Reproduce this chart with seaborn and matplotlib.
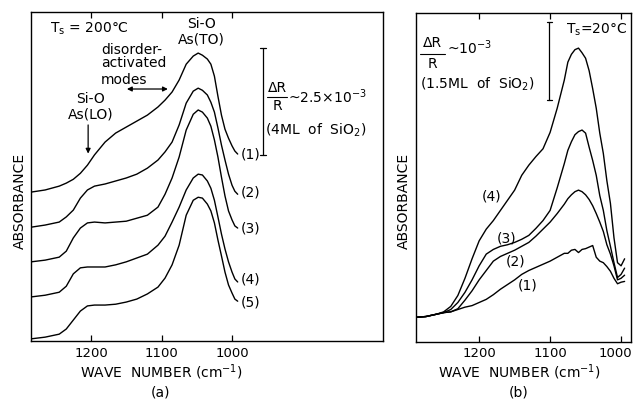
import matplotlib
matplotlib.use("Agg")
import matplotlib.pyplot as plt
from matplotlib.transforms import ScaledTranslation
import pandas as pd
import seaborn as sns

# ---------------- (a) T_s = 200 C : five spectra, stacked (units: 1e-3 dR/R) ----------------
WN_A = [1285, 1265, 1245, 1235, 1225, 1215, 1205, 1195, 1180, 1165, 1150, 1135,
        1120, 1105, 1095, 1085, 1075, 1065, 1055, 1048, 1042, 1035, 1030, 1025,
        1020, 1015, 1010, 1005, 1000, 996, 992]
A1 = [3.48, 3.53, 3.62, 3.69, 3.78, 3.92, 4.11, 4.35, 4.65, 4.86, 5.00, 5.14,
      5.28, 5.47, 5.63, 5.82, 6.10, 6.47, 6.66, 6.73, 6.68, 6.59, 6.47, 6.19,
      5.72, 5.28, 4.95, 4.74, 4.56, 4.44, 4.37]
A2 = [2.66, 2.71, 2.78, 2.90, 3.06, 3.34, 3.53, 3.62, 3.67, 3.74, 3.81, 3.90,
      4.04, 4.23, 4.42, 4.65, 5.05, 5.56, 5.84, 5.91, 5.86, 5.75, 5.58, 5.35,
      4.98, 4.58, 4.23, 3.90, 3.64, 3.50, 3.43]
A3 = [1.85, 1.89, 1.96, 2.10, 2.41, 2.64, 2.76, 2.78, 2.76, 2.78, 2.80, 2.87,
      2.94, 3.13, 3.43, 3.81, 4.30, 4.93, 5.30, 5.40, 5.35, 5.21, 5.02, 4.70,
      4.30, 3.83, 3.39, 3.04, 2.83, 2.69, 2.64]
A4 = [1.03, 1.07, 1.14, 1.28, 1.57, 1.71, 1.73, 1.73, 1.73, 1.78, 1.85, 1.94,
      2.03, 2.24, 2.45, 2.78, 3.13, 3.53, 3.81, 3.90, 3.88, 3.74, 3.57, 3.29,
      2.90, 2.50, 2.15, 1.85, 1.61, 1.45, 1.38]
A5 = [0.05, 0.09, 0.16, 0.28, 0.49, 0.70, 0.82, 0.84, 0.84, 0.86, 0.91, 0.98,
      1.10, 1.26, 1.47, 1.78, 2.24, 2.94, 3.29, 3.36, 3.34, 3.20, 3.04, 2.76,
      2.36, 1.99, 1.61, 1.31, 1.12, 0.98, 0.93]
LABELS_A = ["(1)", "(2)", "(3)", "(4)", "(5)"]
SCALE_A = 2.5          # dR/R ~ 2.5e-3  (4 ML of SiO2)

# ---------------- (b) T_s = 20 C : four spectra (units: 1e-3 dR/R) ----------------
WN_B = [1289, 1275, 1260, 1250, 1240, 1230, 1220, 1210, 1200, 1190, 1180, 1170, 1160,
        1150, 1140, 1130, 1120, 1110, 1100, 1090, 1080, 1075, 1070, 1065, 1060, 1055,
        1050, 1045, 1040, 1035, 1030, 1025, 1020, 1015, 1010, 1005, 1000, 995]
B1 = [0.31, 0.32, 0.35, 0.37, 0.38, 0.41, 0.44, 0.46, 0.50, 0.54, 0.60, 0.67, 0.73,
      0.79, 0.86, 0.91, 0.95, 0.99, 1.03, 1.08, 1.13, 1.13, 1.17, 1.18, 1.14, 1.18,
      1.19, 1.21, 1.23, 1.08, 1.03, 1.01, 0.96, 0.90, 0.81, 0.74, 0.76, 0.77]
B2 = [0.31, 0.32, 0.35, 0.37, 0.38, 0.42, 0.53, 0.65, 0.79, 0.91, 1.03, 1.09, 1.13,
      1.17, 1.22, 1.27, 1.35, 1.44, 1.53, 1.64, 1.76, 1.83, 1.88, 1.92, 1.94, 1.92,
      1.88, 1.82, 1.74, 1.64, 1.53, 1.41, 1.24, 1.12, 0.97, 0.79, 0.81, 0.85]
B3 = [0.31, 0.32, 0.35, 0.37, 0.41, 0.50, 0.63, 0.79, 0.97, 1.12, 1.18, 1.22, 1.24,
      1.27, 1.31, 1.36, 1.45, 1.55, 1.68, 1.97, 2.28, 2.45, 2.56, 2.65, 2.69, 2.71,
      2.67, 2.49, 2.32, 2.13, 1.87, 1.68, 1.42, 1.22, 1.01, 0.82, 0.86, 0.94]
B4 = [0.31, 0.32, 0.35, 0.38, 0.45, 0.59, 0.81, 1.06, 1.29, 1.44, 1.55, 1.68, 1.81,
      1.94, 2.13, 2.26, 2.37, 2.47, 2.68, 2.99, 3.35, 3.58, 3.68, 3.74, 3.76, 3.70,
      3.63, 3.47, 3.24, 2.99, 2.67, 2.41, 2.06, 1.77, 1.33, 1.01, 0.97, 1.06]
LABELS_B = ["(1)", "(2)", "(3)", "(4)"]
SCALE_B = 1.0          # dR/R ~ 1e-3  (1.5 ML of SiO2)

XTICKS = [1200, 1100, 1000]


def long_frame(wn, series, labels):
    parts = [pd.DataFrame({"wavenumber": wn, "absorbance": s, "spectrum": lab})
             for s, lab in zip(series, labels)]
    return pd.concat(parts, ignore_index=True)


df_a = long_frame(WN_A, [A1, A2, A3, A4, A5], LABELS_A)
df_b = long_frame(WN_B, [B1, B2, B3, B4], LABELS_B)

sns.set_theme(style="ticks")
plt.rcParams["font.family"] = ["DejaVu Sans"]
plt.rcParams["mathtext.default"] = "regular"

FS = 10
LW = 1.0
fig = plt.figure(figsize=(6.34, 4.0), dpi=100)
fig.patch.set_facecolor("white")
ax_a = fig.add_axes([31 / 634, 59 / 400, 352 / 634, 329 / 400])
ax_b = fig.add_axes([416 / 634, 58.5 / 400, 215 / 634, 328.5 / 400])

for ax, df, labels in ((ax_a, df_a, LABELS_A), (ax_b, df_b, LABELS_B)):
    sns.lineplot(data=df, x="wavenumber", y="absorbance", hue="spectrum",
                 palette=["black"] * len(labels), estimator=None, sort=False,
                 legend=False, linewidth=LW, ax=ax)
    ax.set_xticks(XTICKS)
    ax.set_xticklabels([str(t) for t in XTICKS], fontsize=9.5)
    ax.set_yticks([])
    ax.tick_params(axis="x", direction="in", top=True, bottom=True,
                   length=4, width=0.9, pad=4, colors="black")
    for sp in ax.spines.values():
        sp.set_visible(True)
        sp.set_linewidth(1.0)
        sp.set_color("black")
    ax.set_facecolor("white")
    ax.set_xlabel("")
    ax.set_ylabel("")

ax_a.set_xlim(1285, 786)
ax_a.set_ylim(0, 7.69)
ax_b.set_xlim(1289, 986)
ax_b.set_ylim(0, 4.21)

# keep the last tick label of panel (b) inside the figure edge
last = ax_b.get_xticklabels()[-1]
last.set_transform(last.get_transform() + ScaledTranslation(-6 / 100, 0, fig.dpi_scale_trans))

kw = dict(color="black", fontsize=FS)

# ----- annotations, panel (a)
ax_a.text(1258, 7.29, r"T$_{s}$ = 200°C", ha="left", va="center", **kw)
ax_a.text(1043, 7.41, "Si-O", ha="center", va="center", **kw)
ax_a.text(1043, 7.05, "As(TO)", ha="center", va="center", **kw)
ax_a.text(1186, 6.80, "disorder-", ha="left", va="center", **kw)
ax_a.text(1186, 6.49, "activated", ha="left", va="center", **kw)
ax_a.text(1186, 6.10, "modes", ha="left", va="center", **kw)
ax_a.annotate("", xy=(1091, 5.89), xytext=(1149, 5.89),
              arrowprops=dict(arrowstyle="<|-|>", color="black", lw=0.9,
                              mutation_scale=7, shrinkA=0, shrinkB=0))
ax_a.text(1201, 5.65, "Si-O", ha="center", va="center", **kw)
ax_a.text(1201, 5.30, "As(LO)", ha="center", va="center", **kw)
ax_a.annotate("", xy=(1204, 4.38), xytext=(1204, 5.05),
              arrowprops=dict(arrowstyle="-|>", color="black", lw=0.9,
                              mutation_scale=7, shrinkA=0, shrinkB=0))

# scale bar (a)
bar_x, bar_y0 = 956, 4.35
ax_a.plot([bar_x, bar_x], [bar_y0, bar_y0 + SCALE_A], color="black", lw=0.9)
for yy in (bar_y0, bar_y0 + SCALE_A):
    ax_a.plot([bar_x - 4, bar_x + 4], [yy, yy], color="black", lw=0.9)
ax_a.text(936, 5.91, "ΔR", ha="center", va="center", **kw)
ax_a.plot([950, 922], [5.70, 5.70], color="black", lw=0.8)
ax_a.text(936, 5.49, "R", ha="center", va="center", **kw)
ax_a.text(920, 5.70, r"~%.1f×10$^{-3}$" % SCALE_A, ha="left", va="center", **kw)
ax_a.text(953, 4.93, r"(4ML  of  SiO$_{2}$)", ha="left", va="center", **kw)

for lab, y in zip(LABELS_A, [4.35, 3.46, 2.62, 1.43, 0.89]):
    ax_a.text(988, y, lab, ha="left", va="center", **kw)

# ----- annotations, panel (b)
ax_b.text(992, 3.99, r"T$_{s}$=20°C", ha="right", va="center", **kw)
bar_xb, bar_yb = 1101, 3.09
ax_b.plot([bar_xb, bar_xb], [bar_yb, bar_yb + SCALE_B], color="black", lw=0.9)
for yy in (bar_yb, bar_yb + SCALE_B):
    ax_b.plot([bar_xb - 4, bar_xb + 4], [yy, yy], color="black", lw=0.9)
ax_b.text(1266, 3.82, "ΔR", ha="center", va="center", **kw)
ax_b.plot([1283, 1248], [3.69, 3.69], color="black", lw=0.8)
ax_b.text(1266, 3.56, "R", ha="center", va="center", **kw)
ax_b.text(1246, 3.77, r"~10$^{-3}$", ha="left", va="center", **kw)
ax_b.text(1283, 3.29, r"(1.5ML  of  SiO$_{2}$)", ha="left", va="center", **kw)

for lab, (x, y) in zip(LABELS_B, [(1131, 0.72), (1149, 1.03), (1162, 1.32), (1183, 1.86)]):
    ax_b.text(x, y, lab, ha="center", va="center", **kw)

# ----- axis titles and panel tags
for cx in (20, 404):
    fig.text(cx / 634, 1 - 201 / 400, "ABSORBANCE", rotation=90,
             ha="center", va="center", **kw)
for cx, tag in ((161, "(a)"), (519, "(b)")):
    fig.text(cx / 634, 1 - 372 / 400, r"WAVE  NUMBER (cm$^{-1}$)",
             ha="center", va="center", **kw)
    fig.text(cx / 634, 1 - 392 / 400, tag, ha="center", va="center", **kw)

fig.savefig("out.png", dpi=100, facecolor="white")
